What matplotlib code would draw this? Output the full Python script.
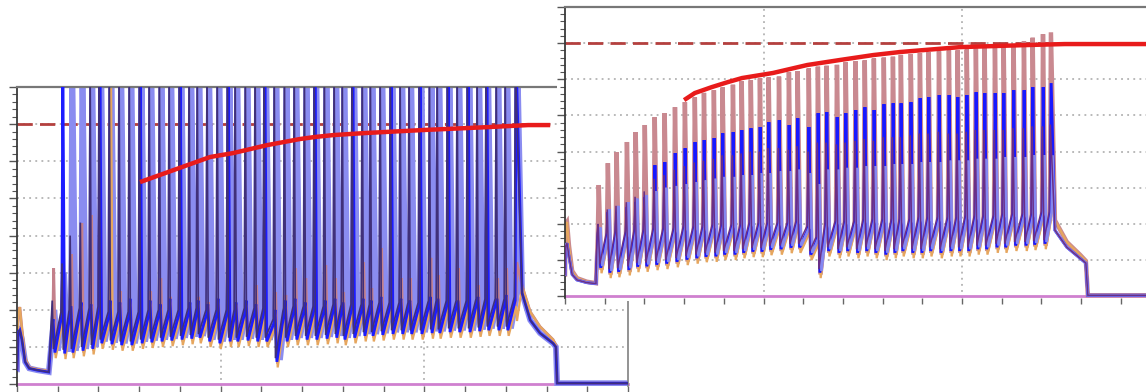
import matplotlib
matplotlib.use("Agg")
import matplotlib.pyplot as plt
from matplotlib.patches import Rectangle
from matplotlib.ticker import MultipleLocator

# ------------------------------------------------------------------ data
# time in ms, membrane potential in mV

# ---- left panel ----
L_spike_t = [86, 110, 130, 155, 179, 201, 226, 250, 275, 300,
             324, 349, 373, 398, 422, 442, 466, 491, 516, 535,
             560, 584, 606, 631, 656, 680, 705, 729, 754, 778,
             798, 822, 847, 867, 891, 916, 940, 962, 987, 1012,
             1031, 1056, 1080, 1105, 1129, 1151, 1176, 1198, 1223]
L_onset = [-72, -66, -65, -64, -64, -63, -66, -66, -66, -66,
           -65, -65, -65, -65, -64, -64, -65, -65, -65, -65,
           -64, -64, -64, -70, -64, -63, -63, -63, -63, -62,
           -62, -62, -62, -62, -61, -61, -61, -61, -61, -60,
           -60, -60, -60, -60, -59, -59, -59, -59, -58]
L_trough = [-86, -86.5, -86, -85, -84, -81, -81.5, -82, -82, -81,
            -80.5, -80, -79.5, -79, -78.5, -78, -80, -81, -80, -80,
            -79.5, -80, -80, -91, -80, -79, -79, -79, -78.5, -78,
            -79, -78, -77, -77, -76.5, -76, -76, -76, -76, -75.5,
            -75.5, -75, -75, -75, -74.5, -74, -74, -74]
L_pink_peak = [-37.5, -26.7, -30, -13.3, -9, -4.6,
               -46.7, -50, -55, -61, -50, -43, -53, -50, -61, -53,
               -55.8, -57, -53.7, -57, -57, -46.7, -53.7, -50.4, -52, -37.5,
               -42.9, -30.5, -35.9, -42.9, -50.4, -46.7,
               -34.3, -48.3, -26.7, -41.3, -43, -43, -32, -32, -41.3, -46.7,
               -37.5, -45, -46.7, -39.7, -43, -37.5, -34.3]
L_blue_peak = [-65, 72, -58, -56, -57, 74, -55, -56, -54, 73,
               -55, -57, -54, 75, -56, -55, -57, -54, 72, -56,
               -55, -57, 74, -60, -55, -54, -56, 73, -55, -54,
               -56, 75, -54, -55, -53, 72, -54, -55, 74, -53,
               -54, 73, -55, 75, -53, 72, -54, -52, 74]
L_lblue_peak = [-60, -40, 73, 75, 72, 74, 71, 76, 73, 72,
                75, 74, 72, 73, 76, 71, 74, 75, 72, 73,
                74, 76, 71, 72, 75, 73, 74, 72, 76, 75,
                71, 73, 74, 72, 75, 76, 73, 71, 74, 72,
                75, 73, 76, 74, 72, 71, 73, 75, 74]
L_purple_peak = [-55, -35, -20, -13, 75, 73, 72, 76, 74, 71,
                 73, 75, 72, 74, 76, 73, 71, 72, 75, 74,
                 73, 76, 72, 71, 74, 75, 73, 72, 76, 74,
                 71, 73, 75, 72, 74, 76, 71, 73, 72, 75,
                 74, 73, 76, 72, 71, 74, 75, 73, 72]
L_orange_peak = [-70, -66, -64, -66, -65, -67, 75, -66, -65, -67,
                 -66, -64, -65, -66, -67, -65, -66, -64, -65, -67,
                 -66, -65, -64, -66, -65, -67, -66, -64, -65, -66,
                 -65, -67, -64, -66, -65, -66, -64, -65, -67, -66,
                 -65, -64, -66, -65, -67, -66, -64, -65, -66]
L_pre_t = [0, 3, 7, 12, 20, 30, 50, 78]
L_blue_pre = [-92, -72, -70.9, -76, -88, -91.5, -92.5, -93.5]
L_pink_pre = [-92, -62, -58.5, -70, -86, -91, -92, -93]
L_post_t = [1240, 1260, 1284, 1316, 1323, 1326, 1500]
L_blue_post = [-51, -65.5, -72.5, -78, -80, -99.5, -99.5]
L_pink_post = [-47, -61, -69, -76, -79, -99.5, -99.5]
L_red_t = [302, 474, 530, 614, 695, 732, 776, 854, 994, 1156, 1255, 1309]
L_red_v = [8.8, 22.3, 24.4, 28.7, 32.0, 33.1, 34.1, 35.2, 36.8, 38.4, 39.5, 39.5]

# ---- right panel ----
R_spike_t = [83, 106, 128, 154, 176, 199, 224, 249, 275, 300,
             325, 348, 373, 395, 421, 443, 466, 489, 511, 537,
             562, 584, 612, 635, 657, 683, 705, 730, 753, 776,
             801, 824, 844, 869, 892, 914, 940, 965, 987, 1010,
             1033, 1055, 1081, 1103, 1128, 1154, 1176, 1202, 1222]
R_onset = [-70, -70, -69, -69, -68, -68, -67, -67, -67, -66,
           -66, -66, -65, -65, -65, -65, -64, -64, -64, -64,
           -64, -63, -66, -72, -64, -63, -63, -63, -62, -62,
           -62, -62, -62, -62, -61, -61, -61, -61, -61, -60,
           -60, -60, -60, -59, -59, -59, -59, -58, -58]
R_trough = [-87.3, -90, -89.5, -88.5, -86.7, -86.5, -85.6, -85, -84, -82.8,
            -82, -81.2, -81, -80, -80, -79, -78.4, -78.4, -77.3, -77,
            -76.2, -76, -80, -90, -78, -79, -78, -79, -78, -79,
            -80, -79, -78, -79, -79, -78, -79, -78, -78, -78,
            -77, -77, -76, -76, -75, -75, -74.5, -74]
R_pink_peak = [-38.5, -26.4, -20.3, -14.7, -9.2, -5.3, -0.9, 1.3, 4.6, 7.4,
               10.0, 12.5, 14.0, 15.5, 17.0, 19.0, 19.5, 20.5, 21.0, 21.5,
               24.0, 24.5, 26.0, 27.0, 27.5, 28.0, 29.5, 30.0, 30.5, 31.5,
               32.0, 32.5, 33.5, 34.0, 34.5, 35.0, 35.5, 36.0, 36.0, 36.5,
               37.0, 37.5, 38.0, 38.0, 39.0, 41.0, 43.0, 45.0, 46.0]
R_blue_peak = [-61.8, -53.5, -53.5, -50.7, -48.0, -45.2, -27.5, -25.8, -20.8, -18.1,
               -14.7, -13.6, -12.5, -9.8, -9.2, -8.1,
               -7.0, -6.4, -3.7, -2.6, -5.3, -1.5, -6.4, 1.3, 1.9, -0.9,
               1.3, 3.0, 4.6, 3.0, 6.3, 6.8,
               6.8, 7.4, 9.6, 10.2, 11.3, 11.3, 10.2, 11.3, 12.9, 12.4,
               12.4, 12.4, 14.0, 14.0, 15.7, 15.7, 17.9]
R_lblue_peak = [-62, -52, -50, -48, -46, -44, -42, -40, -39, -38,
                -37, -36, -35, -34, -34, -33, -33, -32, -32, -31,
                -31, -30, -32, -38, -30, -30, -29, -29, -28, -28,
                -28, -27, -27, -27, -26, -26, -26, -25, -25, -25,
                -24, -24, -24, -23, -23, -23, -22, -22, -22]
R_purple_peak = [-60, -52, -50, -48, -45, -42, -35, -33, -30, -28,
                 -26, -25, -24, -22, -22, -21, -20, -20, -18, -18,
                 -19, -17, -20, -15, -15, -16, -15, -14, -13, -14,
                 -12, -12, -12, -11, -10, -10, -9, -10, -10, -9,
                 -8, -8, -8, -8, -7, -7, -6, -6, -5]
R_orange_peak = [-68, -62, -60, -60, -58, -58, -56, -56, -55, -55,
                 -54, -54, -53, -53, -52, -52, -52, -51, -51, -51,
                 -50, -50, -52, -56, -50, -49, -49, -49, -48, -48,
                 -48, -48, -47, -47, -47, -46, -46, -46, -46, -45,
                 -45, -45, -45, -44, -44, -44, -44, -43, -43]
R_pre_t = [0, 2, 5, 10, 18, 30, 55, 78]
R_blue_pre = [-88, -72, -70.7, -78, -88, -91, -92.5, -93]
R_pink_pre = [-88, -60, -59, -72, -86, -90, -92, -92.8]
R_post_t = [1234, 1264, 1297, 1312, 1317, 1500]
R_blue_post = [-63.5, -72.9, -79, -81.7, -99.5, -99.5]
R_pink_post = [-58, -70, -77, -80.5, -99.5, -99.5]
R_red_t = [300, 327, 370, 411, 446, 524, 610, 693, 776, 844, 995, 1171, 1259, 1500]
R_red_v = [8.5, 12.4, 15.7, 18.5, 20.7, 23.5, 27.9, 30.7, 33.4, 35.1, 37.8, 39.0, 39.5, 39.5]

# stimulus (bottom) trace and reference level
stim_t = [0, 1500]
stim_v = [-100, -100]
ref_level = 40

# ------------------------------------------------------------------ helpers
def build_trace(pre_t, pre_v, spike_t, onset, peaks, troughs, post_t, post_v,
                shift=0.0, lift=0.0, rise=2.5, fall=4.5):
    t = list(pre_t)
    v = list(pre_v)
    n = len(spike_t)
    for i in range(n):
        ts = spike_t[i] + shift
        t += [ts, ts + rise]
        v += [onset[i] + lift, peaks[i]]
        if i < n - 1:
            t.append(ts + rise + fall)
            v.append(troughs[i] + lift)
    t += list(post_t)
    v += list(post_v)
    return t, v


def style(ax):
    ax.set_xlim(0, 1500)
    ax.set_ylim(-101, 60)
    ax.set_facecolor("white")
    ax.xaxis.set_major_locator(MultipleLocator(100))
    ax.yaxis.set_major_locator(MultipleLocator(20))
    ax.yaxis.set_minor_locator(MultipleLocator(4))
    ax.tick_params(axis="x", which="major", direction="out", length=4, width=1,
                   colors="#666666", labelbottom=False)
    ax.tick_params(axis="y", which="major", direction="out", length=6, width=1,
                   colors="#555555", labelleft=False)
    ax.tick_params(axis="y", which="minor", direction="out", length=3.5, width=0.8,
                   colors="#555555")
    for y in (-80, -60, -40, -20, 0, 20, 40):
        ax.axhline(y, color="#a5a5a5", lw=1.1, ls=(0, (1.2, 2.8)), zorder=0.5)
    for x in (500, 1000):
        ax.axvline(x, color="#a5a5a5", lw=1.1, ls=(0, (1.2, 2.8)), zorder=0.5)
    ax.spines["bottom"].set_visible(False)
    ax.spines["left"].set_color("#3a3a3a")
    ax.spines["left"].set_linewidth(1.3)
    ax.spines["top"].set_color("#777777")
    ax.spines["top"].set_linewidth(1.6)
    ax.spines["right"].set_color("#8a8a8a")
    ax.spines["right"].set_linewidth(1.3)


def draw_panel(ax, spike_t, onset, trough, peaks, pre_t, blue_pre, pink_pre,
               post_t, blue_post, pink_post, red_t, red_v, specs):
    ax.axhline(ref_level, color="#b4403e", lw=2.0, dashes=(5.5, 2.6), zorder=0.9)
    ax.plot(stim_t, stim_v, color="#cf80cf", lw=2.0, clip_on=False, zorder=1.0)
    for name, color, lw, shift, lift, fall, z, family in specs:
        pre_v = blue_pre if family == "blue" else pink_pre
        post_v = blue_post if family == "blue" else pink_post
        t, v = build_trace(pre_t, pre_v, spike_t, onset, peaks[name], trough,
                           post_t, post_v, shift=shift, lift=lift, fall=fall)
        ax.plot(t, v, color=color, lw=lw, zorder=z, solid_joinstyle="miter")
    ax.plot(red_t, red_v, color="#e81b1b", lw=3.2, zorder=6, solid_capstyle="butt")


# ------------------------------------------------------------------ figure
fig = plt.figure(figsize=(11.46, 3.92), dpi=100)
fig.patch.set_facecolor("white")

axL = fig.add_axes([17 / 1146, 6 / 392, 611 / 1146, 299 / 392], zorder=0)
style(axL)
L_peaks = {"pink": L_pink_peak, "blue": L_blue_peak, "lblue": L_lblue_peak,
           "purple": L_purple_peak, "orange": L_orange_peak}
L_specs = [  # name, colour, lw, time shift, lift, fall, zorder, pre/post family
    ("lblue", "#8a8cf0", 4.2, 3.0, 4.0, 9.0, 1.5, "blue"),
    ("pink", "#c3808b", 2.0, 1.5, 2.0, 4.5, 2.0, "pink"),
    ("orange", "#e6a65e", 1.6, 2.0, 0.0, 4.5, 2.2, "pink"),
    ("blue", "#1c1cff", 2.0, 0.0, 3.0, 4.5, 3.0, "blue"),
    ("purple", "#40307a", 1.2, -2.0, 5.0, 3.0, 3.5, "blue"),
]
draw_panel(axL, L_spike_t, L_onset, L_trough, L_peaks, L_pre_t, L_blue_pre, L_pink_pre,
           L_post_t, L_blue_post, L_pink_post, L_red_t, L_red_v, L_specs)

cover = Rectangle((557 / 1146, 91 / 392), 1 - 557 / 1146, 1 - 91 / 392,
                  transform=fig.transFigure, facecolor="white", edgecolor="none", zorder=1)
fig.add_artist(cover)

axR = fig.add_axes([565 / 1146, 94 / 392, 595.5 / 1146, 291 / 392], zorder=2)
style(axR)
R_peaks = {"pink": R_pink_peak, "blue": R_blue_peak, "lblue": R_lblue_peak,
           "purple": R_purple_peak, "orange": R_orange_peak}
R_specs = [
    ("pink", "#c98990", 3.2, -0.5, 2.0, 6.5, 1.5, "pink"),
    ("orange", "#e6a65e", 1.6, 2.0, 0.0, 4.5, 1.8, "pink"),
    ("blue", "#1818ff", 2.1, 0.0, 3.0, 4.5, 2.0, "blue"),
    ("lblue", "#8587f0", 1.9, 3.5, 4.0, 5.0, 2.6, "blue"),
    ("purple", "#6a2f86", 1.1, -2.0, 5.0, 4.0, 2.8, "blue"),
]
draw_panel(axR, R_spike_t, R_onset, R_trough, R_peaks, R_pre_t, R_blue_pre, R_pink_pre,
           R_post_t, R_blue_post, R_pink_post, R_red_t, R_red_v, R_specs)

fig.savefig("out.png", dpi=100)
